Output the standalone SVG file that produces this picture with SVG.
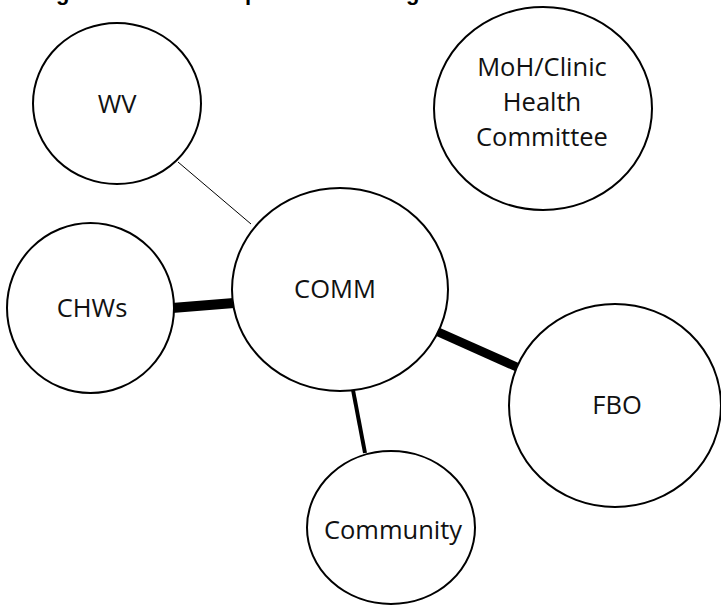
<svg xmlns="http://www.w3.org/2000/svg" width="721" height="605" viewBox="0 0 721 605">
<style>
.node{fill:#fff;stroke:#000;stroke-width:2}
.lbl{font-family:"Open Sans","Noto Sans",sans-serif;font-size:25.5px;fill:#111;text-anchor:middle}
.ttl{font-family:"Liberation Sans",Arial,sans-serif;font-weight:bold;font-size:22px;fill:#000}
.edge{stroke:#000;stroke-linecap:butt}
</style>
<rect width="721" height="605" fill="#fff"/>
<g id="title"><text class="ttl" y="0"><tspan x="56">g</tspan><tspan x="245">p</tspan><tspan x="406">g</tspan></text></g>
<g id="connectors">
<line class="edge" x1="178" y1="162" x2="251" y2="224" stroke-width="1"/>
<line class="edge" x1="172" y1="308" x2="234" y2="303" stroke-width="10"/>
<line class="edge" x1="436" y1="331" x2="519" y2="368" stroke-width="9"/>
<line class="edge" x1="353" y1="390" x2="365" y2="453" stroke-width="4"/>
</g>
<g id="node-wv"><ellipse class="node" cx="117" cy="103.5" rx="84" ry="80.5"/><text class="lbl" x="117" y="113">WV</text></g>
<g id="node-moh"><ellipse class="node" cx="543" cy="108.5" rx="109" ry="101.5"/><text class="lbl" x="542" y="76">MoH/Clinic</text><text class="lbl" x="542" y="111">Health</text><text class="lbl" x="542" y="146">Committee</text></g>
<g id="node-chws"><ellipse class="node" cx="90.5" cy="308" rx="83.5" ry="85"/><text class="lbl" x="92" y="317">CHWs</text></g>
<g id="node-comm"><ellipse class="node" cx="340" cy="289.5" rx="108" ry="101.5"/><text class="lbl" x="335" y="298">COMM</text></g>
<g id="node-fbo"><ellipse class="node" cx="615" cy="405.5" rx="106" ry="101.5"/><text class="lbl" x="617" y="414">FBO</text></g>
<g id="node-community"><ellipse class="node" cx="391" cy="527.5" rx="84" ry="76.5"/><text class="lbl" x="393" y="539">Community</text></g>
</svg>
